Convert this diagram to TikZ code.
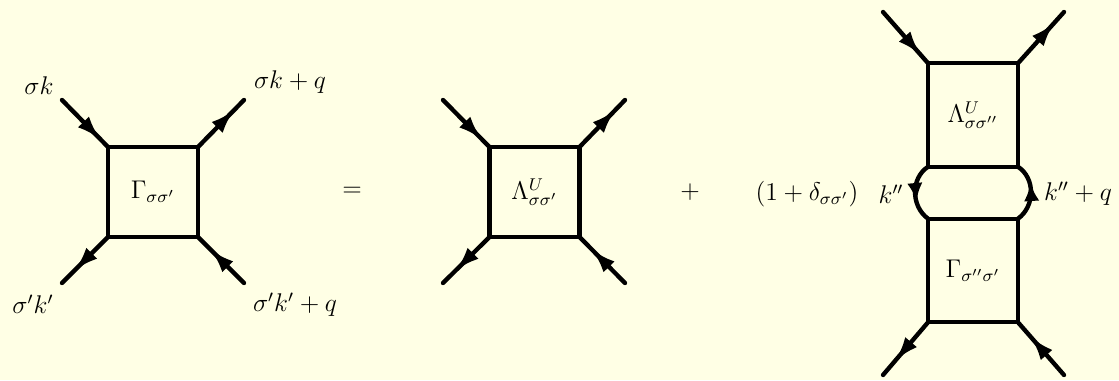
\documentclass[tikz,border=0pt]{standalone}
\usetikzlibrary{arrows.meta, positioning, decorations.markings}
\definecolor{bgcream}{HTML}{FFFFE5}

\begin{document}
\begin{tikzpicture}[
      x=0.389pt, y=-0.389pt,
      every node/.style={font=\fontsize{12}{14}\selectfont, scale=0.83},
      vertex/.style={draw=black, line width=1.7pt, minimum width=42.17pt, minimum height=42.17pt,
                     inner sep=0pt, outer sep=0pt},
      tallvertex/.style={vertex, minimum height=48.55pt},
      leg/.style={line width=1.7pt, line cap=round, postaction={decorate}, decoration={markings,
                     mark=at position #1 with {\arrow{Latex[length=9.5pt, width=6pt]}}}},
      loopline/.style={line width=1.7pt},
      looparr/.style={loopline, -{Latex[length=7pt, width=6pt]}},
      lbl/.style={inner sep=0pt, outer sep=0pt}
    ]
    \fill[bgcream] (0,0) rectangle (1119,380);
    \useasboundingbox (0,0) rectangle (1119,380);

    % left hand side
    \node[vertex] (gam) at (153,192) {$\Gamma_{\sigma\sigma'}$};
    \coordinate (gamtl) at (62,100);
    \coordinate (gamtr) at (244,100);
    \coordinate (gambl) at (62,283);
    \coordinate (gambr) at (244,283);
    \draw[leg=0.84] (gamtl) -- (gam.north west);
    \draw[leg=0.79] (gam.north east) -- (gamtr);
    \draw[leg=0.73] (gam.south west) -- (gambl);
    \draw[leg=0.73] (gambr) -- (gam.south east);
    \node[lbl] (lab1) at (39,86) {$\sigma k$};
    \node[lbl] (lab2) at (290,82) {$\sigma k+q$};
    \node[lbl] (lab3) at (33,304) {$\sigma' k'$};
    \node[lbl] (lab4) at (295,305) {$\sigma' k'+q$};

    \node[lbl] (eq) at (352,192) {$=$};

    % bare vertex
    \node[vertex] (lam) at (534.5,192) {$\Lambda^U_{\sigma\sigma'}$};
    \coordinate (lamtl) at (443,100);
    \coordinate (lamtr) at (625,100);
    \coordinate (lambl) at (443,283);
    \coordinate (lambr) at (625,283);
    \draw[leg=0.84] (lamtl) -- (lam.north west);
    \draw[leg=0.79] (lam.north east) -- (lamtr);
    \draw[leg=0.73] (lam.south west) -- (lambl);
    \draw[leg=0.73] (lambr) -- (lam.south east);

    \node[lbl] (plus) at (690,192) {$+$};
    \node[lbl] (pref) at (807,194) {$(1+\delta_{\sigma\sigma'})$};

    % bubble term
    \node[tallvertex] (top) at (973,115) {$\Lambda^U_{\sigma\sigma''}$};
    \node[tallvertex] (bot) at (973,270.5) {$\Gamma_{\sigma''\sigma'}$};
    \coordinate (toptl) at (883,12);
    \coordinate (toptr) at (1064,12);
    \coordinate (botbl) at (883,375);
    \coordinate (botbr) at (1064,375);
    \draw[leg=0.84] (toptl) -- (top.north west);
    \draw[leg=0.79] (top.north east) -- (toptr);
    \draw[leg=0.73] (bot.south west) -- (botbl);
    \draw[leg=0.73] (botbr) -- (bot.south east);
    \draw[loopline] (top.south west) .. controls (910.7,178) and (910.7,206) .. (bot.north west);
    \draw[loopline] (bot.north east) .. controls (1035.3,206) and (1035.3,178) .. (top.south east);
    \coordinate (leftback) at (915,185);
    \coordinate (lefttip) at (916.5,201);
    \coordinate (rightback) at (1031.5,199);
    \coordinate (righttip) at (1030.5,183);
    \draw[looparr] (leftback) -- (lefttip);
    \draw[looparr] (rightback) -- (righttip);
    \node[lbl] (lab5) at (891,194) {$k''$};
    \node[lbl] (lab6) at (1078,194) {$k''+q$};
  \end{tikzpicture}
\end{document}
